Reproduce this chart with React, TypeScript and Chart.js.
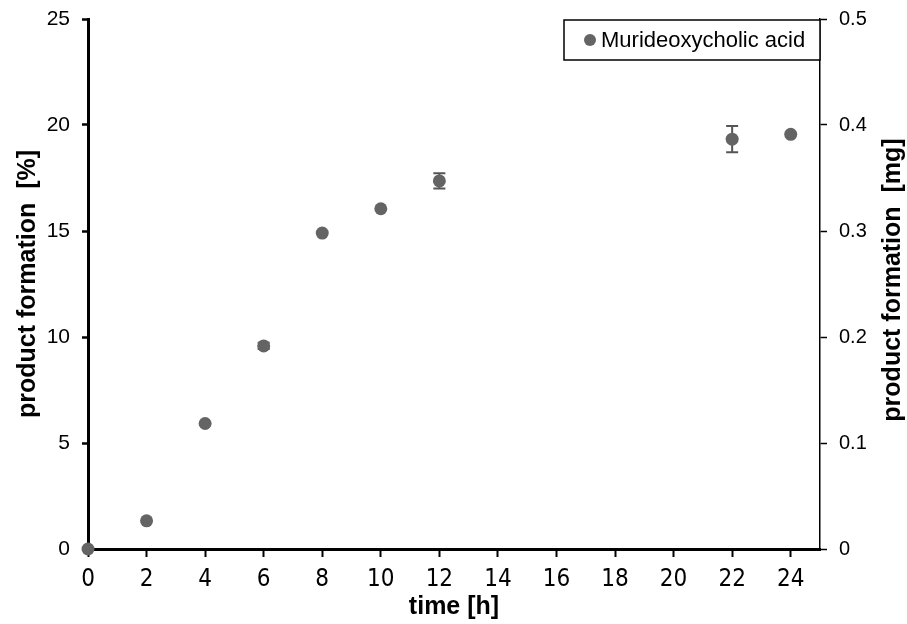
import React, { useEffect, useRef } from "react";
import { Chart, registerables } from "chart.js";

Chart.register(...registerables);

const times = [0, 2, 4, 6, 8, 10, 12, 22, 24];
const formation = [0, 1.33, 5.92, 9.58, 14.9, 16.05, 17.36, 19.33, 19.56];
const errors = [0, 0, 0, 0.15, 0, 0, 0.36, 0.62, 0];
const xTicks = [0, 2, 4, 6, 8, 10, 12, 14, 16, 18, 20, 22, 24];
const yLeftTicks = [0, 5, 10, 15, 20, 25];
const yRightTicks = [0, 0.1, 0.2, 0.3, 0.4, 0.5];
const seriesName = "Murideoxycholic acid";
const xTitle = "time [h]";
const yLeftTitle = "product formation  [%]";
const yRightTitle = "product formation  [mg]";

const POINT_COLOR = "#646464";
const FONT = "'Liberation Sans', Arial, sans-serif";

export default function App() {
  const ref = useRef<HTMLCanvasElement | null>(null);

  useEffect(() => {
    document.body.style.margin = "0";
    const canvas = ref.current;
    if (!canvas) return;

    const errorBars = {
      id: "errorBars",
      beforeDatasetsDraw(chart: any) {
        const ctx = chart.ctx;
        const xs = chart.scales.x;
        const ys = chart.scales.y;
        ctx.save();
        ctx.strokeStyle = "#555";
        ctx.lineWidth = 2;
        times.forEach((t, i) => {
          const e = errors[i];
          if (!e) return;
          const px = xs.getPixelForValue(t);
          const top = ys.getPixelForValue(formation[i] + e);
          const bot = ys.getPixelForValue(formation[i] - e);
          ctx.beginPath();
          ctx.moveTo(px, top);
          ctx.lineTo(px, bot);
          ctx.moveTo(px - 6, top);
          ctx.lineTo(px + 6, top);
          ctx.moveTo(px - 6, bot);
          ctx.lineTo(px + 6, bot);
          ctx.stroke();
        });
        ctx.restore();
      },
    };

    const extras = {
      id: "extras",
      afterDraw(chart: any) {
        const ctx = chart.ctx;
        const area = chart.chartArea;
        ctx.save();
        // legend box
        const w = 256;
        const h = 40;
        const lx = area.right - w;
        const ly = area.top + 1;
        ctx.fillStyle = "#fff";
        ctx.fillRect(lx, ly, w, h);
        ctx.strokeStyle = "#000";
        ctx.lineWidth = 1.5;
        ctx.strokeRect(lx, ly, w, h);
        ctx.fillStyle = POINT_COLOR;
        ctx.beginPath();
        ctx.arc(lx + 26, ly + h / 2, 6, 0, Math.PI * 2);
        ctx.fill();
        ctx.fillStyle = "#000";
        ctx.font = `22px ${FONT}`;
        ctx.textBaseline = "middle";
        ctx.textAlign = "left";
        ctx.fillText(seriesName, lx + 37, ly + h / 2 + 1);
        // right axis title
        const ry = chart.scales.yRight;
        ctx.translate(ry.right - 14, (area.top + area.bottom) / 2 - 4);
        ctx.rotate(-Math.PI / 2);
        ctx.textAlign = "center";
        ctx.font = `bold 25px ${FONT}`;
        ctx.fillText(yRightTitle, 0, 0);
        ctx.restore();
      },
    };

    const chart = new Chart(canvas, {
      type: "scatter",
      data: {
        datasets: [
          {
            label: seriesName,
            data: times.map((t, i) => ({ x: t, y: formation[i] })),
            backgroundColor: POINT_COLOR,
            borderColor: POINT_COLOR,
            borderWidth: 0,
            pointRadius: 6.5,
            pointHoverRadius: 6.5,
            clip: false as any,
          },
        ],
      },
      options: {
        animation: false,
        responsive: true,
        maintainAspectRatio: false,
        layout: { padding: { top: 19, left: 0, right: 0, bottom: 0 } },
        plugins: {
          legend: { display: false },
          tooltip: { enabled: false },
        },
        scales: {
          x: {
            type: "linear",
            min: 0,
            max: 25,
            afterBuildTicks: (s: any) => {
              s.ticks = xTicks.map((v) => ({ value: v }));
            },
            afterFit: (s: any) => {
              s.height = 75;
              s.paddingLeft = 0;
              s.paddingRight = 0;
            },
            grid: {
              drawOnChartArea: false,
              drawTicks: true,
              tickLength: 8,
              tickWidth: 2,
              tickColor: "#000",
            },
            border: { color: "#000", width: 3 },
            ticks: {
              color: "#000",
              padding: 8,
              maxRotation: 0,
              font: { family: "'Liberation Sans Narrow', 'DejaVu Sans Condensed', Arial, sans-serif", size: 24 },
            },
            title: {
              display: true,
              text: xTitle,
              color: "#000",
              font: { family: FONT, size: 25, weight: "bold" },
              padding: { top: 0, bottom: 2 },
            },
          },
          y: {
            position: "left",
            min: 0,
            max: 25,
            afterBuildTicks: (s: any) => {
              s.ticks = yLeftTicks.map((v) => ({ value: v }));
            },
            afterFit: (s: any) => {
              s.width = 88;
              s.paddingTop = 0;
              s.paddingBottom = 0;
            },
            grid: {
              drawOnChartArea: false,
              drawTicks: true,
              tickLength: 6,
              tickWidth: 2.5,
              tickColor: "#000",
            },
            border: { color: "#000", width: 3 },
            ticks: {
              color: "#000",
              padding: 12,
              font: { family: FONT, size: 21 },
            },
            title: {
              display: true,
              text: yLeftTitle,
              color: "#000",
              font: { family: FONT, size: 25, weight: "bold" },
              padding: { top: 13, bottom: 0 },
            },
          },
          yRight: {
            position: "right",
            min: 0,
            max: 0.5,
            afterBuildTicks: (s: any) => {
              s.ticks = yRightTicks.map((v) => ({ value: v }));
            },
            afterFit: (s: any) => {
              s.width = 87;
              s.paddingTop = 0;
              s.paddingBottom = 0;
            },
            grid: {
              drawOnChartArea: false,
              drawTicks: true,
              tickLength: 7,
              tickWidth: 1.5,
              tickColor: "#000",
            },
            border: { color: "#000", width: 1.5 },
            ticks: {
              color: "#000",
              padding: 12,
              font: { family: FONT, size: 20 },
              callback: (v: any) => String(Math.round(Number(v) * 10) / 10),
            },
          },
        },
      },
      plugins: [errorBars, extras],
    });

    return () => chart.destroy();
  }, []);

  return (
    <div style={{ width: 907, height: 624, position: "relative", background: "#fff" }}>
      <canvas ref={ref} />
    </div>
  );
}
